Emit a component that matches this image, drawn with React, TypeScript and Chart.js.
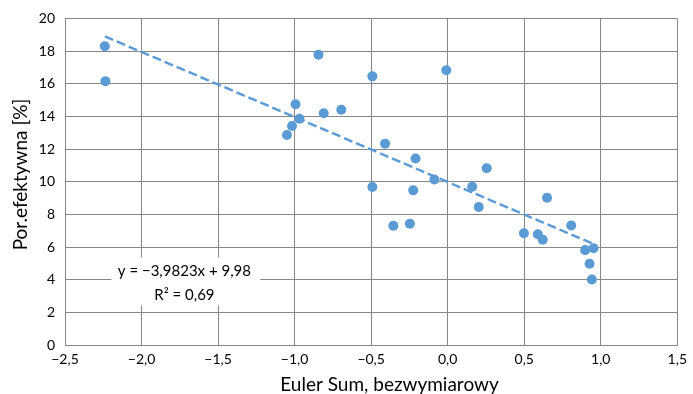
import React, { useEffect, useRef } from "react";
import { Chart, registerables } from "chart.js";

Chart.register(...registerables);

const eulerSum: number[] = [
  -2.24, -2.236, -0.844, -0.492, -0.009, -0.994, -0.81, -0.695, -0.968, -1.017,
  -1.05, -0.409, -0.21, -0.087, -0.492, -0.225, 0.255, 0.16, 0.649, -0.355,
  -0.247, 0.203, 0.807, 0.498, 0.589, 0.621, 0.898, 0.953, 0.927, 0.942,
];
const porEfektywna: number[] = [
  18.29, 16.15, 17.77, 16.45, 16.82, 14.74, 14.19, 14.41, 13.85, 13.41,
  12.86, 12.33, 11.42, 10.13, 9.67, 9.47, 10.82, 9.69, 9.02, 7.3,
  7.42, 8.45, 7.32, 6.84, 6.78, 6.44, 5.81, 5.93, 4.98, 4.01,
];
const trendSlope = -3.9823;
const trendIntercept = 9.98;
const equationLabels: string[] = ["y = \u22123,9823x + 9,98", "R\u00B2 = 0,69"];
const xTitle = "Euler Sum, bezwymiarowy";
const yTitle = "Por.efektywna [%]";

const FONT = "Lato, 'Open Sans', sans-serif";

const fmt = (v: number, d: number) =>
  v.toFixed(d).replace(".", ",").replace("-", "\u2212");

export default function App() {
  const ref = useRef<HTMLCanvasElement | null>(null);

  useEffect(() => {
    if (!ref.current) return;
    const xMin = Math.min(...eulerSum);
    const xMax = Math.max(...eulerSum);
    const trend = [xMin, xMax].map((x) => ({ x, y: trendSlope * x + trendIntercept }));

    const overlay = {
      id: "overlay",
      afterDatasetsDraw(chart: any) {
        const { ctx, scales, chartArea } = chart;
        const xs = scales.x;
        const ys = scales.y;
        ctx.save();
        // equation box
        const cx = xs.getPixelForValue(-1.72);
        const cy = ys.getPixelForValue(3.76);
        ctx.fillStyle = "#ffffff";
        ctx.fillRect(cx - 73, cy - 26, 149, 48);
        ctx.fillStyle = "#000000";
        ctx.font = `15px ${FONT}`;
        ctx.textAlign = "center";
        ctx.textBaseline = "middle";
        ctx.fillText(equationLabels[0], cx, cy - 12);
        ctx.fillText(equationLabels[1], cx, cy + 12);
        // axis titles
        ctx.font = `19px ${FONT}`;
        ctx.fillText(xTitle, chartArea.left + (chartArea.right - chartArea.left) * 0.53, 385);
        ctx.translate(21, chartArea.top + (chartArea.bottom - chartArea.top) * 0.478);
        ctx.rotate(-Math.PI / 2);
        ctx.fillText(yTitle, 0, 0);
        ctx.restore();
      },
    };

    const chart = new Chart(ref.current, {
      type: "scatter",
      data: {
        datasets: [
          {
            type: "line",
            data: trend,
            borderColor: "#5B9BD5",
            borderWidth: 2.4,
            borderDash: [9, 4],
            pointRadius: 0,
            fill: false,
          } as any,
          {
            data: eulerSum.map((x, i) => ({ x, y: porEfektywna[i] })),
            backgroundColor: "#5B9BD5",
            borderColor: "#5B9BD5",
            pointRadius: 5,
            pointHoverRadius: 5,
            borderWidth: 0,
          },
        ],
      },
      options: {
        animation: false,
        responsive: false,
        maintainAspectRatio: false,
        events: [],
        layout: { padding: { top: 16, right: 12, left: 0, bottom: 0 } },
        plugins: { legend: { display: false }, tooltip: { enabled: false } },
        scales: {
          x: {
            type: "linear",
            min: -2.5,
            max: 1.5,
            afterFit: (s: any) => {
              s.height = 49;
            },
            ticks: {
              stepSize: 0.5,
              color: "#000000",
              font: { family: FONT, size: 14 },
              padding: 6,
              maxRotation: 0,
              callback: (v: any) => fmt(Number(v), 1),
            },
            grid: { color: "#878787", lineWidth: 1, drawTicks: false },
            border: { color: "#878787", width: 1 },
          },
          y: {
            type: "linear",
            min: 0,
            max: 20,
            afterFit: (s: any) => {
              s.width = 65;
            },
            ticks: {
              stepSize: 2,
              color: "#000000",
              font: { family: FONT, size: 14 },
              padding: 10,
              callback: (v: any) => String(v),
            },
            grid: { color: "#878787", lineWidth: 1, drawTicks: false },
            border: { color: "#878787", width: 1 },
          },
        },
      },
      plugins: [overlay],
    });
    return () => chart.destroy();
  }, []);

  return (
    <div style={{ position: "fixed", left: 0, top: 0, width: 693, height: 394, background: "#fff" }}>
      <canvas ref={ref} width={693} height={394} style={{ width: 693, height: 394 }} />
    </div>
  );
}
